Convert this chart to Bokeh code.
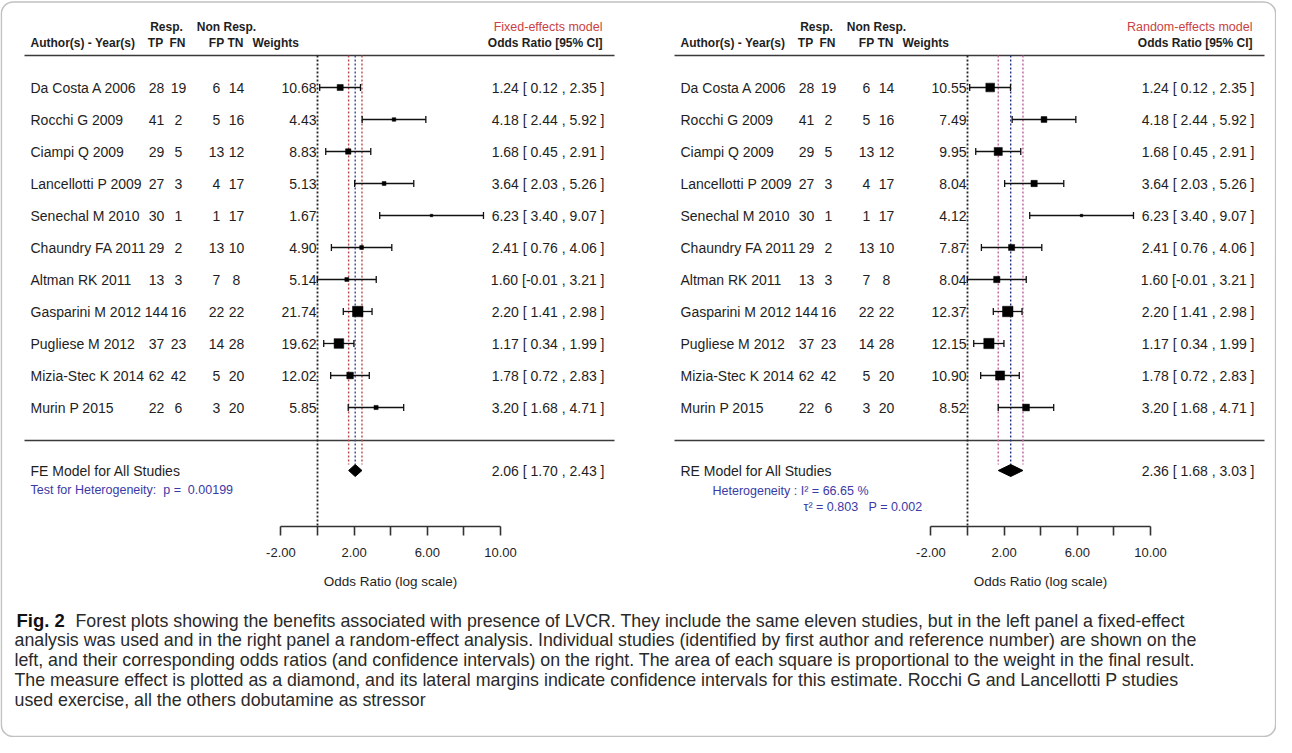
from bokeh.plotting import figure
from bokeh.models import Range1d, LinearAxis, FixedTicker, BoxAnnotation, ColumnDataSource
from bokeh.core.properties import value
from bokeh.embed import file_html
from bokeh.resources import INLINE

# ---------------- data ----------------
studies = ["Da Costa A 2006", "Rocchi G 2009", "Ciampi Q 2009", "Lancellotti P 2009",
           "Senechal M 2010", "Chaundry FA 2011", "Altman RK 2011", "Gasparini M 2012",
           "Pugliese M 2012", "Mizia-Stec K 2014", "Murin P 2015"]
tp = [28, 41, 29, 27, 30, 29, 13, 144, 37, 62, 22]
fn = [19, 2, 5, 3, 1, 2, 3, 16, 23, 42, 6]
fp = [6, 5, 13, 4, 1, 13, 7, 22, 14, 5, 3]
tn = [14, 16, 12, 17, 17, 10, 8, 22, 28, 20, 20]
or_est = [1.24, 4.18, 1.68, 3.64, 6.23, 2.41, 1.60, 2.20, 1.17, 1.78, 3.20]
ci_lo = [0.12, 2.44, 0.45, 2.03, 3.40, 0.76, -0.01, 1.41, 0.34, 0.72, 1.68]
ci_hi = [2.35, 5.92, 2.91, 5.26, 9.07, 4.06, 3.21, 2.98, 1.99, 2.83, 4.71]
weights_fe = [10.68, 4.43, 8.83, 5.13, 1.67, 4.90, 5.14, 21.74, 19.62, 12.02, 5.85]
weights_re = [10.55, 7.49, 9.95, 8.04, 4.12, 7.87, 8.04, 12.37, 12.15, 10.90, 8.52]
fe_summary = [2.06, 1.70, 2.43]   # estimate, low, high
re_summary = [2.36, 1.68, 3.03]
fe_het_p = "0.00199"
re_i2 = "66.65"
re_tau2 = "0.803"
re_p = "0.002"
axis_ticks = [-2, 0, 2, 4, 6, 8, 10]
axis_tick_labels = ["-2.00", "", "2.00", "", "6.00", "", "10.00"]

caption_bold = "Fig. 2"
caption_lines = [
    "Forest plots showing the benefits associated with presence of LVCR. They include the same eleven studies, but in the left panel a fixed-effect",
    "analysis was used and in the right panel a random-effect analysis. Individual studies (identified by first author and reference number) are shown on the",
    "left, and their corresponding odds ratios (and confidence intervals) on the right. The area of each square is proportional to the weight in the final result.",
    "The measure effect is plotted as a diamond, and its lateral margins indicate confidence intervals for this estimate. Rocchi G and Lancellotti P studies",
    "used exercise, all the others dobutamine as stressor",
]

# ---------------- layout constants (canvas pixels) ----------------
W, H = 1276, 737
SCALE = 18.3                # px per odds-ratio unit
ZERO = [317, 967]           # canvas x of 0 in each panel
DX = [0, 650]
HDR1, HDR2, RULE = 26, 42, 55
ROW0, STEP = 87, 32
SEP = 440
SUMY = 470
AXIS_Y = 526
CAP_Y0, CAP_STEP = 620, 19.8

FONT = value("Liberation Sans")
NBSP = "\u00a0"
TXT = "#1e1e1e"

p = figure(width=W, height=H, x_axis_type=None, y_axis_type=None,
           toolbar_location=None, min_border=0, outline_line_color=None,
           output_backend="svg",
           x_range=Range1d(0, W), y_range=Range1d(H, 0))
p.extra_x_ranges = {
    "fe": Range1d(-ZERO[0] / SCALE, (W - ZERO[0]) / SCALE),
    "re": Range1d(-ZERO[1] / SCALE, (W - ZERO[1]) / SCALE),
}

rows_y = [ROW0 + i * STEP for i in range(len(studies))]


def txt(x, y, t, size="14px", align="left", color=TXT, style="normal", font=FONT):
    p.text(x=x, y=y, text=t, text_font=font, text_font_size=size,
           text_align=align, text_baseline="middle", text_color=color,
           text_font_style=style)


def fmt_ci(e, lo, hi):
    return f"{e:.2f} [{lo:5.2f} , {hi:.2f} ]".replace(" ", NBSP)


panels = [
    dict(rng="fe", weights=weights_fe, summ=fe_summary, title="Fixed-effects model",
         model="FE Model for All Studies", red="#b9474a", blue="#3b4599"),
    dict(rng="re", weights=weights_re, summ=re_summary, title="Random-effects model",
         model="RE Model for All Studies", red="#c2609c", blue="#2c2c80"),
]

for k, pn in enumerate(panels):
    d = DX[k]
    rng = pn["rng"]
    # headers
    txt([166 + d], [HDR1], ["Resp."], size="12px", align="center", style="bold")
    txt([226 + d], [HDR1], ["Non Resp."], size="12px", align="center", style="bold")
    txt([30 + d], [HDR2], ["Author(s) - Year(s)"], size="12px", style="bold")
    txt([155 + d, 177 + d, 216 + d, 235 + d], [HDR2] * 4, ["TP", "FN", "FP", "TN"],
        size="12px", align="center", style="bold")
    txt([252 + d], [HDR2], ["Weights"], size="12px", style="bold")
    txt([602 + d], [HDR1], [pn["title"]], size="12.5px", align="right", color="#c9423f")
    txt([602 + d], [HDR2], ["Odds Ratio [95% CI]"], size="12px", align="right", style="bold")
    # rules
    p.segment(x0=[24 + d, 24 + d], x1=[614 + d, 614 + d], y0=[RULE, SEP], y1=[RULE, SEP],
              line_color="#3a3a3a", line_width=1.6)
    # study columns
    txt([30 + d] * len(studies), rows_y, studies)
    txt([156 + d] * 11, rows_y, [str(v) for v in tp], align="center")
    txt([178 + d] * 11, rows_y, [str(v) for v in fn], align="center")
    txt([216 + d] * 11, rows_y, [str(v) for v in fp], align="center")
    txt([236 + d] * 11, rows_y, [str(v) for v in tn], align="center")
    txt([316 + d] * 11, rows_y, [f"{w:.2f}" for w in pn["weights"]], align="right")
    txt([604 + d] * 11, rows_y,
        [fmt_ci(e, lo, hi) for e, lo, hi in zip(or_est, ci_lo, ci_hi)], align="right")

    # reference lines
    est, lo, hi = pn["summ"]
    p.segment(x0=[0], x1=[0], y0=[RULE], y1=[AXIS_Y], x_range_name=rng,
              line_color="#222222", line_width=1.8, line_dash="2 2")
    p.segment(x0=[lo, hi], x1=[lo, hi], y0=[RULE, RULE], y1=[SUMY - 6, SUMY - 6],
              x_range_name=rng, line_color=pn["red"], line_width=1.4, line_dash="2 2")
    p.segment(x0=[est], x1=[est], y0=[RULE], y1=[SUMY - 6],
              x_range_name=rng, line_color=pn["blue"], line_width=1.4, line_dash="2 2")

    # confidence intervals
    src = ColumnDataSource(dict(lo=ci_lo, hi=ci_hi, est=or_est, y=rows_y,
                                yt=[y - 3.5 for y in rows_y], yb=[y + 3.5 for y in rows_y]))
    p.segment(x0="lo", x1="hi", y0="y", y1="y", source=src, x_range_name=rng,
              line_color="#111111", line_width=1.3)
    p.segment(x0="lo", x1="lo", y0="yt", y1="yb", source=src, x_range_name=rng,
              line_color="#111111", line_width=1.3)
    p.segment(x0="hi", x1="hi", y0="yt", y1="yb", source=src, x_range_name=rng,
              line_color="#111111", line_width=1.3)
    wmin, wmax = min(pn["weights"]), max(pn["weights"])
    sizes = [2.5 + (w - wmin) / (wmax - wmin) * 8.0 for w in pn["weights"]]
    p.scatter(x=or_est, y=rows_y, size=sizes, marker="square", x_range_name=rng,
              fill_color="#000000", line_color="#000000", line_width=0.5)

    # summary diamond
    p.patch(x=[lo, est, hi, est], y=[SUMY, SUMY - 6, SUMY, SUMY + 6], x_range_name=rng,
            fill_color="#000000", line_color="#000000")
    txt([30 + d], [SUMY], [pn["model"]])
    txt([604 + d], [SUMY], [fmt_ci(est, lo, hi)], align="right")

    # axis
    ax = LinearAxis(x_range_name=rng, fixed_location=AXIS_Y, bounds=(-2, 10),
                    ticker=FixedTicker(ticks=axis_ticks),
                    major_label_overrides=dict(zip(axis_ticks, axis_tick_labels)),
                    axis_label="Odds Ratio (log scale)")
    ax.axis_line_color = "#333333"
    ax.axis_line_width = 1.6
    ax.major_tick_line_color = "#333333"
    ax.major_tick_line_width = 1.6
    ax.major_tick_in = 0
    ax.major_tick_out = 9
    ax.minor_tick_in = 0
    ax.minor_tick_out = 0
    ax.major_label_text_font = "Liberation Sans"
    ax.major_label_text_font_size = "13px"
    ax.major_label_text_color = TXT
    ax.major_label_standoff = 12
    ax.axis_label_text_font = "Liberation Sans"
    ax.axis_label_text_font_size = "13.5px"
    ax.axis_label_text_font_style = "normal"
    ax.axis_label_text_color = TXT
    ax.axis_label_standoff = 14
    p.add_layout(ax, "below")

# heterogeneity texts
HBLUE = "#3a3aa6"
txt([30], [SUMY + 19], [f"Test for Heterogeneity:{NBSP}{NBSP}p ={NBSP}{NBSP}{fe_het_p}"],
    size="12.5px", color=HBLUE)
txt([712], [SUMY + 20], [f"Heterogeneity :{NBSP}I² ={NBSP}{re_i2} %"], size="12.5px", color=HBLUE)
txt([803], [SUMY + 36], [f"τ² ={NBSP}{re_tau2}{NBSP}{NBSP}{NBSP}P ={NBSP}{re_p}"],
    size="12.5px", color=HBLUE)

# caption
CAPFONT = value("Liberation Sans")
p.text(x=[16], y=[CAP_Y0], text=[caption_bold], text_font=CAPFONT, text_font_size="18.5px",
       text_font_style="bold", text_baseline="middle", text_color="#111111")
cap_x = [75] + [14] * (len(caption_lines) - 1)
cap_y = [CAP_Y0 + i * CAP_STEP for i in range(len(caption_lines))]
p.text(x=cap_x, y=cap_y, text=caption_lines, text_font=CAPFONT, text_font_size="17.8px",
       text_baseline="middle", text_color="#2a2a2a")

# outer rounded frame
p.add_layout(BoxAnnotation(left=0.8, right=W - 0.8, top=1.5, bottom=H - 1.0,
                           fill_color=None, line_color="#333333", line_width=1.6,
                           border_radius=12))

open("out.html", "w").write(file_html(p, INLINE))
